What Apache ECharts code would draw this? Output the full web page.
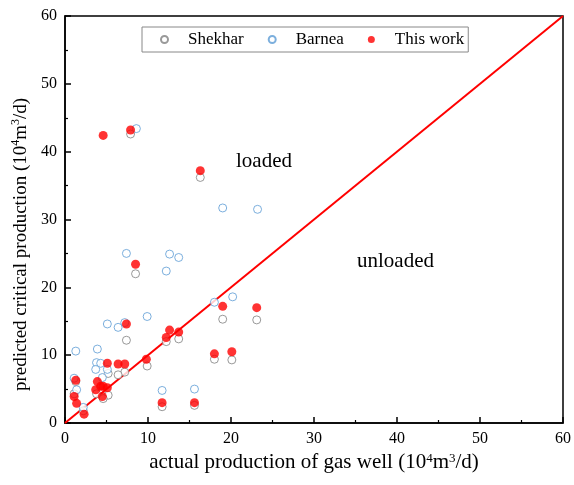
<!DOCTYPE html>
<html><head><meta charset="utf-8">
<script src="https://cdn.jsdelivr.net/npm/echarts@6/dist/echarts.min.js"></script>
<style>html,body{margin:0;padding:0;background:#fff}#c{width:574px;height:485px}</style>
</head><body><div id="c"></div>
<script>
var shekharX = [7.9, 16.3, 8.5, 7.4, 13.7, 12.2, 9.9, 7.2, 6.4, 5.2, 18.0, 20.1, 11.7, 15.6, 19.0, 23.1, 5.2, 4.6, 3.8, 1.3, 1.1, 2.2];
var shekharY = [42.6, 36.2, 22.0, 12.2, 12.4, 12.0, 8.4, 7.5, 7.1, 7.3, 9.4, 9.3, 2.4, 2.6, 15.3, 15.2, 4.1, 3.6, 4.3, 6.1, 4.3, 1.8];
var barneaX = [8.6, 19.0, 23.2, 7.4, 12.6, 13.7, 12.2, 9.9, 18.0, 20.2, 1.3, 5.1, 6.4, 7.2, 3.9, 3.8, 4.3, 3.7, 5.1, 4.5, 1.1, 1.4, 2.2, 11.7, 15.6];
var barneaY = [43.4, 31.7, 31.5, 25.0, 24.9, 24.4, 22.4, 15.7, 17.8, 18.6, 10.6, 14.6, 14.1, 14.8, 10.9, 8.9, 8.8, 7.9, 7.9, 6.7, 6.6, 4.9, 2.3, 4.8, 5.0];
var workX = [4.6, 7.9, 8.5, 16.3, 7.4, 5.1, 6.4, 7.2, 9.8, 12.2, 12.6, 13.7, 11.7, 15.6, 18.0, 20.1, 19.0, 23.1, 1.3, 1.1, 1.4, 2.3, 3.9, 3.7, 4.3, 4.6, 4.5, 5.1];
var workY = [42.4, 43.2, 23.4, 37.2, 14.6, 8.8, 8.7, 8.7, 9.4, 12.6, 13.7, 13.4, 3.0, 3.0, 10.2, 10.5, 17.2, 17.0, 6.3, 3.9, 2.9, 1.3, 6.1, 4.9, 5.4, 5.4, 3.9, 5.2];
var xTicks = [0, 10, 20, 30, 40, 50, 60];
var yTicks = [0, 10, 20, 30, 40, 50, 60];
var lineX = [0, 60];
var lineY = [0, 60];

function pairs(xs, ys) { return xs.map(function (x, i) { return [x, ys[i]]; }); }
var serif = 'Liberation Serif';
var chart = echarts.init(document.getElementById('c'));
function richFor(sz) { return { sup: { fontSize: Math.round(sz * 0.62), verticalAlign: 'top', padding: [0, 0, Math.round(sz * 0.45), 0], fontFamily: serif, color: '#000' } }; }
function axisCommon() {
  return {
    min: 0, max: 60, interval: 10,
    axisLine: { show: true, onZero: false, lineStyle: { color: '#000', width: 1.5 } },
    axisTick: { show: true, inside: true, length: 6, lineStyle: { color: '#000', width: 1.5 } },
    minorTick: { show: true, splitNumber: 2, length: 3, lineStyle: { color: '#000', width: 1.2 } },
    splitLine: { show: false },
    axisLabel: { color: '#000', fontFamily: serif, fontSize: 16, margin: 8 },
  };
}
var xa = axisCommon();
xa.type = 'value';
xa.name = 'actual production of gas well (10{sup|4}m{sup|3}/d)';
xa.nameLocation = 'middle';
xa.nameGap = 27;
xa.nameTextStyle = { fontFamily: serif, fontSize: 21, color: '#000', rich: richFor(21) };
var ya = axisCommon();
ya.type = 'value';
ya.name = 'predicted critical production (10{sup|4}m{sup|3}/d)';
ya.nameLocation = 'middle';
ya.nameGap = 33;
ya.nameTextStyle = { fontFamily: serif, fontSize: 19, color: '#000', rich: richFor(19), padding: [0, 50, 0, 0] };

chart.setOption({
  animation: false,
  backgroundColor: '#fff',
  grid: { left: 65, right: 8, top: 16, bottom: 62, show: true, borderColor: '#000', borderWidth: 1.5 },
  legend: {
    top: 27, left: 142, width: 326,
    padding: [4, 4, 4, 18],
    borderColor: '#888', borderWidth: 1,
    itemGap: 24, itemWidth: 7, itemHeight: 7,
    textStyle: { fontFamily: serif, fontSize: 17, color: '#000', padding: [0, 0, 0, 15] },
    data: ['Shekhar', 'Barnea', 'This work']
  },
  xAxis: xa,
  yAxis: ya,
  series: [
    { name: 'diag', type: 'line', data: pairs(lineX, lineY), showSymbol: false, silent: true,
      lineStyle: { color: '#ff0000', width: 2 }, z: 1 },
    { name: 'Shekhar', type: 'scatter', symbol: 'circle', symbolSize: 8, data: pairs(shekharX, shekharY),
      itemStyle: { color: '#fff', borderColor: '#7f7f7f', borderWidth: 1 }, z: 2 },
    { name: 'Barnea', type: 'scatter', symbol: 'circle', symbolSize: 8, data: pairs(barneaX, barneaY),
      itemStyle: { color: '#fff', borderColor: '#5b9bd5', borderWidth: 1 }, z: 3 },
    { name: 'This work', type: 'scatter', symbol: 'circle', symbolSize: 9, data: pairs(workX, workY),
      itemStyle: { color: '#ff0000' }, z: 4 }
  ],
  graphic: [
    { type: 'text', left: 236, top: 151, style: { text: 'loaded', fontFamily: serif, fontSize: 21, fill: '#000' } },
    { type: 'text', left: 357, top: 251, style: { text: 'unloaded', fontFamily: serif, fontSize: 21, fill: '#000' } }
  ]
});
</script></body></html>
